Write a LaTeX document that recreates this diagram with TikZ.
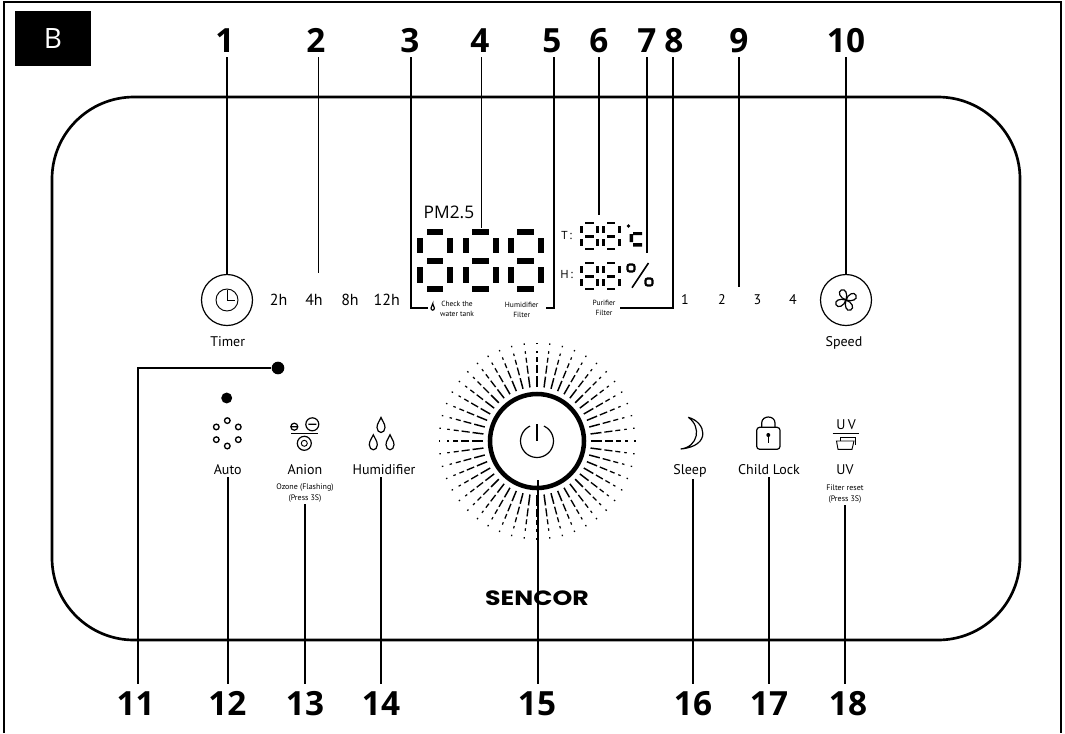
\documentclass[tikz,border=0pt]{standalone}
\usepackage{fontspec}
\setmainfont{PT Sans}
\newfontfamily\numfont{Open Sans}
\newfontfamily\logofont{Poppins}
\usetikzlibrary{positioning}

\newcommand{\segdigit}[4]{%
    \begin{scope}[shift={(#1,#2)},xscale=#3,yscale=#4]
        \foreach \xa/\ya/\xb/\yb in {9.3/0/26/5.5,9.3/29.3/26/34.8,9.3/57.2/26/62.7,
                0/9/5.5/24,30/9/35.5/24,0/38.3/5.5/53.7,30/38.3/35.5/53.7}
            \fill (\xa,\ya) rectangle (\xb,\yb);
    \end{scope}}
\newcommand{\waterdrop}[3]{%
    \begin{scope}[shift={(#1,#2)},scale=#3]
        \draw[iconline] (0,-7.5) .. controls (1,-4) and (4,-2) .. (4,2.5)
            .. controls (4,5.5) and (2,7.5) .. (0,7.5)
            .. controls (-2,7.5) and (-4,5.5) .. (-4,2.5)
            .. controls (-4,-2) and (-1,-4) .. cycle;
    \end{scope}}

\begin{document}
\begin{tikzpicture}[x=0.75pt,y=-0.75pt,
        numtop/.style={inner sep=0pt, outer xsep=0pt, outer ysep=3.75pt, text height=16.5pt,
                       text depth=0pt, font=\numfont\fontsize{25}{25}\bfseries\selectfont},
        numbot/.style={numtop, outer ysep=7pt},
        leader/.style={line width=1.4pt, black},
        iconline/.style={line width=0.9pt, black},
        thinline/.style={line width=0.7pt, black},
        ray/.style={black},
        roundbtn/.style={circle, draw, line width=0.9pt, minimum size=38.25pt, inner sep=0pt},
        panellabel/.style={inner sep=0pt, outer sep=1.5pt, font=\fontsize{10.5}{12}\selectfont},
        smalllabel/.style={inner sep=0pt, outer sep=1.5pt, align=center, font=\fontsize{5.6}{7.4}\selectfont},
        ticklabel/.style={inner sep=0pt, font=\fontsize{12}{14}\selectfont}]
    \useasboundingbox (0,0) rectangle (1065,733);
    \draw[line width=1.5pt] (4,733) -- (4,1.5) -- (1060.7,1.5) -- (1060.7,733);
    \node[fill=black, text=white, minimum width=57pt, minimum height=41pt, inner sep=0pt,
          font=\numfont\fontsize{21}{21}\selectfont] (tag) at (53,38.5) {B};
    \draw[line width=2pt, rounded corners=61.5pt] (52,97) rectangle (1020,640);

    \foreach \n/\x in {1/225,2/316,3/410,4/480,5/552,6/599,7/647,8/674,9/739,10/846}
        \node[numtop] (n\n) at (\x,41) {\n};
    \foreach \n/\x in {11/135.7,12/227.3,13/305,14/381,15/537,16/693,17/769,18/848}
        \node[numbot] (n\n) at (\x,704) {\n};

    \node[roundbtn] (timerbtn) at (227,300) {};
    \node[panellabel] (timerlabel) at (227.7,342) {Timer};
    \draw[thinline] (227,300) circle[radius=11];
    \draw[thinline] (227,290) -- (227,300) -- (235,300);
    \foreach \t/\x in {2h/278.7,4h/314,8h/350,12h/386.7}
        \node[ticklabel] (hour\t) at (\x,300) {\t};

    \node[font=\numfont\fontsize{13}{15}\selectfont, inner sep=0pt] (pmlabel) at (449,212) {PM2.5};
    \segdigit{417.3}{229}{1}{1}
    \segdigit{463}{229}{1}{1}
    \segdigit{508}{229}{1}{1}
    \segdigit{580}{221.7}{0.53}{0.457}
    \segdigit{601.7}{221.7}{0.53}{0.457}
    \segdigit{580}{261.7}{0.53}{0.457}
    \segdigit{601.7}{261.7}{0.53}{0.457}
    \node[font=\numfont\fontsize{8.5}{9}\selectfont, inner sep=0pt] (tlabel) at (567,236) {T\,:};
    \node[font=\numfont\fontsize{8.5}{9}\selectfont, inner sep=0pt] (hlabel) at (567,275) {H\,:};
    \fill (628.5,226) circle[radius=1.8];
    \fill (633,232) rectangle (642,235) (629.5,234) rectangle (633,242) (633,243) rectangle (642,246.5);
    \draw[line width=1.6pt, rounded corners=1.5pt] (627.5,264.5) rectangle (634.5,271.5);
    \draw[line width=1.6pt, rounded corners=1.5pt] (645.5,278.5) rectangle (652.5,285.5);
    \draw[line width=1.2pt] (632,287.7) -- (648.5,263);
    \waterdrop{432.7}{307}{0.42}
    \node[smalllabel] (tanklabel) at (457,309) {Check the\\water tank};
    \node[smalllabel] (humfilter) at (521.7,309.5) {Humidifier\\Filter};
    \node[smalllabel] (purfilter) at (604,308) {Purifier\\Filter};
    \foreach \t/\x in {1/685,2/722,3/757.5,4/793}
        \node[ticklabel, font=\fontsize{10.5}{12}\selectfont] (speed\t) at (\x,300) {\t};

    \node[roundbtn] (speedbtn) at (846,300) {};
    \node[panellabel] (speedlabel) at (844,343) {Speed};
    \foreach \r in {20,110,200,290}
        \draw[iconline, shift={(846,300)}, rotate=\r] (0,0) .. controls (-5,-4) and (-5.5,-10.5) .. (-1,-11)
            .. controls (3.5,-11.5) and (4,-5) .. (0,0);

    \node[circle, fill=black, inner sep=0pt, minimum size=9.5pt] (mark11) at (278,368) {};
    \node[circle, fill=black, inner sep=0pt, minimum size=8.2pt] (automark) at (226.7,398) {};
    \foreach \a in {30,90,...,330}
        \draw[line width=1pt] (227.3,433.3) +(\a:12.7) circle[radius=2.8];
    \node[panellabel] (autolabel) at (227.7,470) {Auto};

    \draw[iconline] (294.3,426.7) circle[radius=3.5] (291.8,426.7) -- (296.8,426.7);
    \draw[iconline] (312.3,424.3) circle[radius=6.5] (308.3,424.3) -- (316.3,424.3);
    \draw[thinline] (291,433.3) -- (317.7,433.3);
    \draw[iconline] (304.3,443.3) circle[radius=7];
    \draw[thinline] (304.3,443.3) circle[radius=3];
    \node[panellabel] (anionlabel) at (305,470) {Anion};
    \node[smalllabel, font=\fontsize{6}{8}\selectfont] (ozonelabel) at (305,492.7) {Ozone (Flashing)\\(Press 3S)};

    \waterdrop{381}{425}{1}
    \waterdrop{373.3}{442.3}{1}
    \waterdrop{390}{442.3}{1}
    \node[panellabel] (humlabel) at (384,470) {Humidifier};

    \node[circle, draw, line width=3.4pt, minimum size=70.5pt, inner sep=0pt] (powerbtn) at (537,441) {};
    \draw[line width=0.9pt] (537,441) ++(-65:16.5) arc[start angle=-65,end angle=245,radius=16.5];
    \draw[line width=2.2pt] (537,424) -- (537,441);
    \foreach \a in {0,7.5,...,352.5}
        \foreach \ra/\rb/\w in {54/65/1.1,68/76/1,79/84/0.95,88/90.5/0.9,97/98.5/0.9}
            \draw[ray, line width=\w pt] (537,441) +(\a:\ra) -- +(\a:\rb);
    \node[inner sep=0pt, font=\logofont\fontsize{15.5}{16}\bfseries\selectfont] (sencor) at (537,598)
        {\scalebox{1.22}[1]{SENCOR}};

    \draw[iconline] (688.3,417.3) .. controls (706,422) and (712,446) .. (680.7,449)
        .. controls (698,447) and (702,427) .. (688.3,417.3);
    \node[panellabel] (sleeplabel) at (690,471) {Sleep};

    \draw[iconline, rounded corners=2.2pt] (756.7,427.3) rectangle (780,449.3);
    \draw[iconline] (761.7,427.3) -- (761.7,423) .. controls (761.7,415) and (775,415) .. (775,423) -- (775,427.3);
    \fill (768.3,435) circle[radius=2];
    \draw[line width=1.2pt] (768.3,435) -- (768.3,443);
    \node[panellabel] (locklabel) at (769,470) {Child Lock};

    \node[inner sep=0pt, font=\fontsize{10.5}{12}\selectfont] (uvicon) at (846,425) {U\,V};
    \draw[thinline] (832.7,433.3) -- (859,433.3);
    \draw[thinline] (840,441) -- (840,437.7) -- (855.7,437.7) -- (855.7,445);
    \draw[thinline] (836.5,441) -- (854,441) -- (852,449.3) -- (838,449.3) -- cycle;
    \node[panellabel] (uvlabel) at (845,470) {UV};
    \node[smalllabel, font=\fontsize{6}{8}\selectfont] (resetlabel) at (845,494) {Filter reset\\(Press 3S)};

    \coordinate (end2) at (318.5,273);
    \coordinate (end3) at (428,307.7);
    \coordinate (end4) at (481.5,228);
    \coordinate (end5) at (545.7,307.7);
    \coordinate (end6) at (599,215);
    \coordinate (end7) at (647,253);
    \coordinate (end8) at (620,308);
    \coordinate (end9) at (739,287);
    \coordinate (end15) at (537.7,480);
    \coordinate (bend3) at (410.7,57);
    \coordinate (bend5) at (554,57);
    \coordinate (bend8) at (673,57);
    \coordinate (bend11) at (137.7,368);
    \draw[leader] (n1.south -| timerbtn.north) -- (timerbtn.north);
    \draw[leader] (n2.south -| end2) -- (end2);
    \draw[leader] (n3.south -| bend3) |- (end3);
    \draw[leader] (n4.south -| end4) -- (end4);
    \draw[leader] (n5.south -| bend5) |- (end5);
    \draw[leader] (n6.south -| end6) -- (end6);
    \draw[leader] (n7.south -| end7) -- (end7);
    \draw[leader] (n8.south -| bend8) |- (end8);
    \draw[leader] (n9.south -| end9) -- (end9);
    \draw[leader] (n10.south -| speedbtn.north) -- (speedbtn.north);
    \draw[leader] (n11.north -| bend11) -- (bend11) -- (mark11);
    \draw[leader] (n12.north -| autolabel.south) -- (autolabel.south);
    \draw[leader] (n13.north -| ozonelabel.south) -- (ozonelabel.south);
    \draw[leader] (n14.north) -- (n14.north |- humlabel.south);
    \draw[leader] (n15.north -| end15) -- (end15);
    \draw[leader] (n16.north) -- (n16.north |- sleeplabel.south);
    \draw[leader] (n17.north) -- (n17.north |- locklabel.south);
    \draw[leader] (n18.north -| resetlabel.south) -- (resetlabel.south);
\end{tikzpicture}
\end{document}
